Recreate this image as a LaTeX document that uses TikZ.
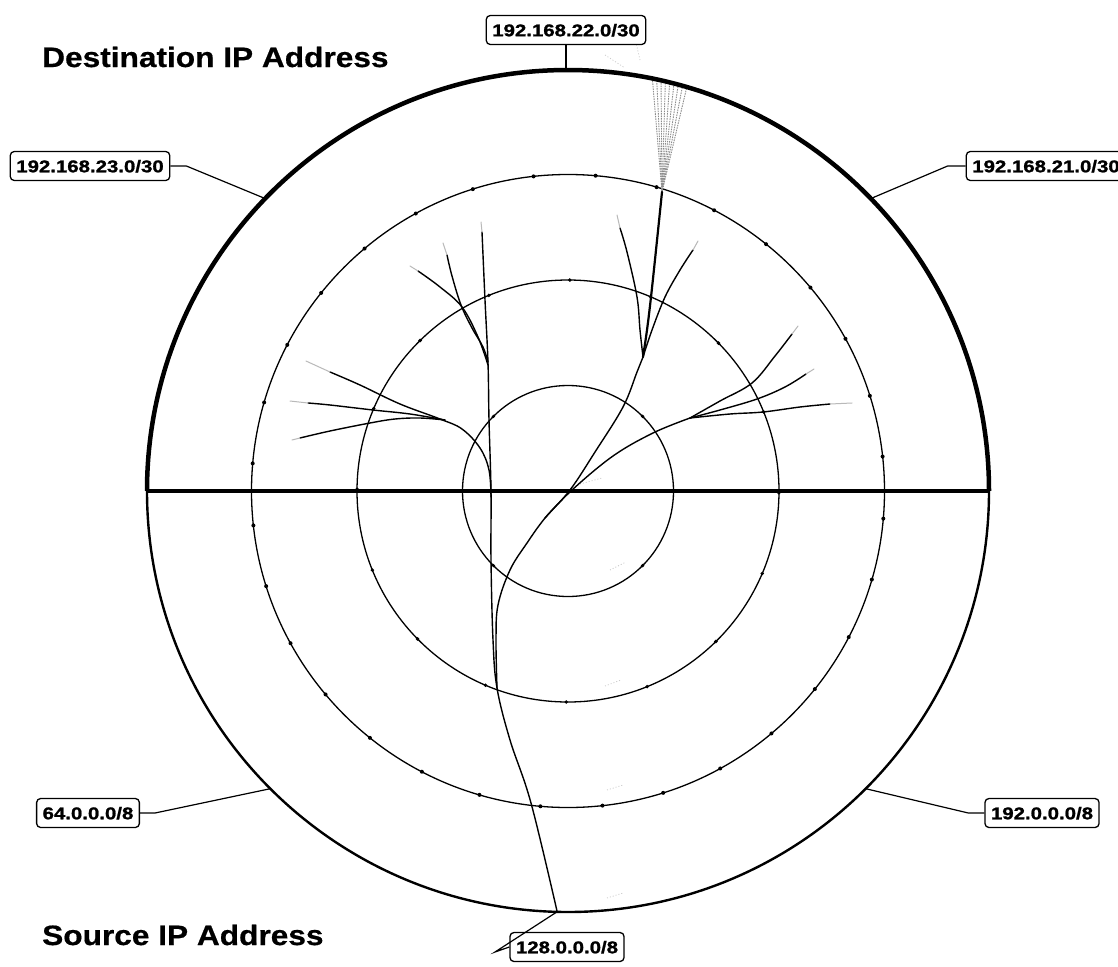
\documentclass[tikz,border=0pt]{standalone}
\usepackage{fontspec}
\setmainfont{Liberation Sans}
\newfontfamily\labfont[FakeStretch=1.2,FakeBold=1.2]{Liberation Sans}
\newfontfamily\titfont[FakeStretch=1.13,FakeBold=0.6]{Liberation Sans}
\usetikzlibrary{calc}
\begin{document}
\begin{tikzpicture}[x=1pt,y=-1pt,
  ring/.style={line width=1.3pt},
  branch/.style={line width=1.4pt, line cap=round, line join=round},
  tipline/.style={line width=1pt, gray!55, line cap=round},
  fanline/.style={line width=0.9pt, black!45, dash pattern=on 1.5pt off 1pt},
  speck/.style={line width=0.7pt, gray!45, dash pattern=on 1pt off 2pt},
  conn/.style={line width=1.2pt},
  lab/.style={draw, rounded corners=4pt, line width=1.3pt, fill=white,
    font=\labfont\bfseries\fontsize{17}{20}\selectfont,
    inner xsep=6pt, inner ysep=0pt, minimum height=29pt, text height=12.5pt, text depth=0pt},
  titletext/.style={font=\titfont\bfseries\fontsize{28}{32}\selectfont, inner sep=0pt}]
\useasboundingbox (0,0) rectangle (1118,966);
\fill[white] (0,0) rectangle (1118,966);
\coordinate (C) at (568,491);

% rings
\draw[ring] (C) circle[radius=105.5];
\draw[ring] (C) circle[radius=211];
\draw[ring] (C) circle[radius=316.5];

% ring dots
\foreach \a in {5,16.25,...,360} \fill ($(C)+(\a:316.5)$) circle[radius=2];
\foreach \a in {0.5,23,...,360} \fill ($(C)+(\a:211)$) circle[radius=1.9];
\foreach \a in {45,135,225,315} \fill ($(C)+(\a:105.5)$) circle[radius=1.8];

% faint specks
\draw[speck] (580,484) -- (602,478);
\draw[speck] (610,570) -- (626,562);
\draw[speck] (605,686) -- (621,680);
\draw[speck] (607,790) -- (623,785);
\draw[speck] (607,898) -- (623,893);
\draw[speck] (605,55) -- (625,68);
\draw[speck] (633,30) -- (640,60);

% top dotted fan
\foreach \a in {281.6,282.2,...,286.6} \draw[fanline] (662,192) -- ($(C)+(\a:420)$);

% trunk and left vertical branch
\draw[branch] plot[smooth, tension=0.6] coordinates {(557,911) (531,803) (510,740) (497,688) (493,640) (491,560) (491,491) (489,420) (488,363) (485,300) (482,232)};
\draw[tipline] (482,232) -- (481,222);
% right-going branch B
\draw[branch] plot[smooth, tension=0.6] coordinates {(497,688) (496,640) (498,605) (510,570) (527,543) (545,518) (570,490) (595,452) (623,407) (637,372) (643,357)};
% branch B2 to right fan
\draw[branch] plot[smooth, tension=0.6] coordinates {(545,518) (572,490) (613,456) (653,433) (690,418)};

% top fan
\draw[branch] plot[smooth, tension=0.6] coordinates {(643,357) (640,330) (637,297) (627,252) (620,228)};
\draw[tipline] (620,228) -- (617,215);
\draw[branch, line width=2.2pt] plot[smooth, tension=0.6] coordinates {(643,357) (647,330) (651,297) (656,250) (662,192)};
\draw[branch] plot[smooth, tension=0.6] coordinates {(643,357) (652,330) (665,297) (680,270) (693,250)};
\draw[tipline] (693,250) -- (698,241);

% upper-left fan on vertical branch
\draw[branch] plot[smooth, tension=0.6] coordinates {(488,365) (478,337) (462,307) (440,287) (418,271)};
\draw[tipline] (418,271) -- (410,266);
\draw[branch] plot[smooth, tension=0.6] coordinates {(488,362) (483,347) (472,328) (461,305) (452,276) (447,255)};
\draw[tipline] (447,255) -- (443,243);

% left fan
\draw[branch] plot[smooth, tension=0.6] coordinates {(491,497) (489,470) (480,448) (462,429) (440,419) (400,404) (360,385) (330,372)};
\draw[tipline] (330,372) -- (306,361);
\draw[branch] plot[smooth, tension=0.6] coordinates {(445,420) (410,414) (373,410) (330,405) (308,403)};
\draw[tipline] (308,403) -- (290,401);
\draw[branch] plot[smooth, tension=0.6] coordinates {(445,420) (420,418) (395,419) (370,423) (330,431) (300,438)};
\draw[tipline] (300,438) -- (292,440);

% right fan
\draw[branch] plot[smooth, tension=0.6] coordinates {(690,418) (720,401) (752,383) (775,356) (792,334)};
\draw[tipline] (792,334) -- (798,326);
\draw[branch] plot[smooth, tension=0.6] coordinates {(690,418) (720,410) (757,399) (785,387) (806,374)};
\draw[tipline] (806,374) -- (814,369);
\draw[branch] plot[smooth, tension=0.6] coordinates {(690,418) (730,414) (763,412) (800,407) (830,404)};
\draw[tipline] (830,404) -- (852,403);

% outer circle and horizontal axis
\draw[line width=4.5pt] ($(C)+(180:421)$) arc[start angle=180, end angle=360, radius=421];
\draw[line width=2.4pt] ($(C)+(0:421)$) arc[start angle=0, end angle=180, radius=421];
\draw[line width=3.5pt] ($(C)+(180:421)$) -- ($(C)+(0:421)$);

% label anchor points on the outer circle
\coordinate (p22) at ($(C)+(270:421)$);
\coordinate (p23) at ($(C)+(224:421)$);
\coordinate (p21) at ($(C)+(316:421)$);
\coordinate (p64) at ($(C)+(135:421)$);
\coordinate (p192) at ($(C)+(45:421)$);
\coordinate (p128) at ($(C)+(91.5:421)$);
\coordinate (e128) at (495,952);

% labels
\node[lab] (l22) at (566,30) {192.168.22.0/30};
\node[lab] (l23) at (90,166) {192.168.23.0/30};
\node[lab] (l21) at (1046,166) {192.168.21.0/30};
\node[lab] (l64) at (88,813) {64.0.0.0/8};
\node[lab] (l192) at (1042,813) {192.0.0.0/8};
\node[lab] (l128) at (567,947) {128.0.0.0/8};

% connectors
\draw[conn] (l22.south) -- (l22.south |- p22);
\draw[conn] (l23.east) -- ++(16,0) -- (p23);
\draw[conn] (l21.west) -- ++(-18,0) -- (p21);
\draw[conn] (l64.east) -- ++(15,0) -- (p64);
\draw[conn] (l192.west) -- ++(-16,0) -- (p192);
\draw[conn] (p128) -- (e128) -- (l128.west);

% titles
\node[titletext, anchor=base west] (t1) at (42,67) {Destination IP Address};
\node[titletext, anchor=base west] (t2) at (42,945) {Source IP Address};
\end{tikzpicture}
\end{document}
